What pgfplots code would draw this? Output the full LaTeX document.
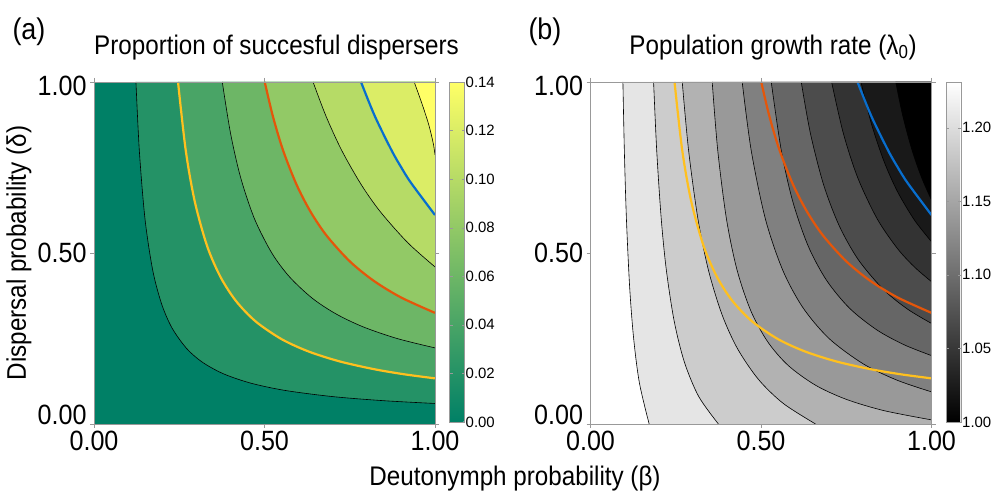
\documentclass[border=0pt]{standalone}
\usepackage{pgfplots}
\pgfplotsset{compat=1.18}
\usepackage{pgfplotstable}
\usepackage{fontspec}
\setmainfont{Liberation Sans}[FakeStretch=0.9]
\newfontfamily\plainsans{Liberation Sans}

% summer colormap bands (left), grey bands (right)
\definecolor{s0}{RGB}{0,128,102}
\definecolor{s1}{RGB}{36,146,102}
\definecolor{s2}{RGB}{73,164,102}
\definecolor{s3}{RGB}{109,182,102}
\definecolor{s4}{RGB}{146,201,102}
\definecolor{s5}{RGB}{182,219,102}
\definecolor{s6}{RGB}{219,237,102}
\definecolor{s7}{RGB}{255,255,102}
\definecolor{cyel}{RGB}{255,192,30}
\definecolor{cred}{RGB}{228,86,10}
\definecolor{cblu}{RGB}{8,110,206}

% contours of the proportion of successful dispersers
\pgfplotstableread{
x y
0.1230 1
0.1329 0.8
0.1495 0.6
0.1721 0.45
0.1986 0.35
0.2292 0.28
0.2723 0.22
0.3188 0.18
0.38 0.1466
0.46 0.1194
0.56 0.0982
0.70 0.0801
0.85 0.0681
1.0 0.0600
}\cA
\pgfplotstableread{
x y
0.2464 1
0.2690 0.8
0.2956 0.65
0.3318 0.52
0.3709 0.43
0.4161 0.36
0.4739 0.30
0.55 0.2481
0.63 0.2117
0.72 0.1831
0.82 0.1605
0.91 0.1453
1.0 0.1334
}\cB
\pgfplotstableread{
x y
0.3762 1
0.4004 0.85
0.4302 0.72
0.4706 0.6
0.5214 0.5
0.5735 0.43
0.64 0.3678
0.71 0.3217
0.79 0.2837
0.89 0.2496
1.0 0.2225
}\cC
\pgfplotstableread{
x y
0.5007 1
0.5245 0.9
0.5545 0.8
0.5939 0.7
0.6354 0.62
0.6827 0.55
0.75 0.4757
0.82 0.4189
0.90 0.3702
1.0 0.3249
}\cD
\pgfplotstableread{
x y
0.6424 1
0.6804 0.9
0.7264 0.8
0.7836 0.7
0.84 0.6202
0.92 0.5302
1.0 0.4593
}\cE
\pgfplotstableread{
x y
0.783 1
0.8236 0.9
0.8727 0.8
0.9012 0.75
0.93 0.7046
1.0 0.611
}\cF
\pgfplotstableread{
x y
0.939 1
0.963 0.933
0.982 0.874
0.995 0.82
1.0 0.787
}\cG

% contours of lambda_0
\pgfplotstableread{
x y
0.0950 1
0.0992 0.8
0.1053 0.6
0.1148 0.4
0.1265 0.25
0.1434 0.12
0.1720 0
}\lA
\pgfplotstableread{
x y
0.1850 1
0.1941 0.8
0.2074 0.6
0.2224 0.45
0.2455 0.3
0.2756 0.18
0.3175 0.08
0.3751 0
}\lB
\pgfplotstableread{
x y
0.2690 1
0.2876 0.8
0.3150 0.6
0.3458 0.45
0.3856 0.32
0.4312 0.22
0.4928 0.13
0.5654 0.06
0.66 0
}\lC
\pgfplotstableread{
x y
0.3569 1
0.3731 0.8
0.3986 0.6
0.4298 0.45
0.4705 0.33
0.5199 0.24
0.58 0.1709
0.66 0.1133
0.75 0.0721
0.86 0.0392
1.0 0.0120
}\lD
\pgfplotstableread{
x y
0.4448 1
0.4712 0.8
0.5127 0.6
0.5636 0.45
0.6230 0.34
0.70 0.2495
0.80 0.1757
0.90 0.1277
1.0 0.0939
}\lE
\pgfplotstableread{
x y
0.5300 1
0.5594 0.8
0.5933 0.65
0.6385 0.52
0.6923 0.42
0.76 0.3381
0.84 0.2749
0.92 0.2315
1.0 0.2000
}\lF
\pgfplotstableread{
x y
0.6180 1
0.6448 0.85
0.6834 0.7
0.7292 0.58
0.7856 0.48
0.86 0.3923
0.93 0.3357
1.0 0.2940
}\lG
\pgfplotstableread{
x y
0.7070 1
0.7414 0.85
0.7837 0.72
0.8406 0.6
0.90 0.5132
0.95 0.4590
1.0 0.4161
}\lH
\pgfplotstableread{
x y
0.7930 1
0.8231 0.88
0.8599 0.77
0.9000 0.68
0.95 0.5962
1.0 0.533
}\lI
\pgfplotstableread{
x y
0.895 1
0.916 0.9
0.9431 0.8
0.9712 0.72
1.0 0.6547
}\lJ

\pgfplotsset{
  panel/.style={
    scale only axis, width=341bp, height=342bp,
    xmin=0, xmax=1, ymin=0, ymax=1,
    xtick={0,0.5,1}, ytick={0,0.5,1},
    xticklabels={0.00,0.50,1.00},
    yticklabel={\ifcase\ticknum\raisebox{9bp}[\height][\depth]{0.00}\or 0.50\or\raisebox{-4bp}[\height][\depth]{1.00}\fi},
    tick align=outside, major tick length=4bp,
    axis line style={gray!80}, tick style={gray!80},
    ticklabel style={font=\fontsize{28}{28}\selectfont},
    title style={font=\fontsize{27}{30}\selectfont, at={(0.5,1)}, anchor=base, yshift=22bp, xshift=12bp},
    axis on top, clip=true,
  },
  cbar/.style={
    colorbar style={
      at={(parent axis.north east)}, anchor=north west, xshift=6bp,
      width=15bp, height=340bp, scale only axis,
      axis line style={gray!80}, tick style={gray!80},
      tick align=inside, major tick length=3bp,
      yticklabel style={font=\plainsans\fontsize{15}{15}\selectfont, inner sep=1bp,
        /pgf/number format/.cd, fixed, fixed zerofill, precision=2, assume math mode=true},
    },
  },
  band/.style={draw=none, fill=#1, smooth},
  cline/.style={black, line width=0.6bp, smooth},
  hline/.style={#1, line width=2.2bp, smooth},
}

\begin{document}
\begin{tikzpicture}[x=1bp, y=1bp]
\useasboundingbox (0,0) rectangle (995,492);

\begin{axis}[panel, cbar, at={(94bp,68bp)}, anchor=south west,
  title={Proportion of succesful dispersers},
  axis background/.style={fill=s0},
  colormap={summer}{rgb255=(0,128,102) rgb255=(255,255,102)},
  colorbar, point meta min=0, point meta max=0.14,
  colorbar style={ytick={0,0.02,0.04,0.06,0.08,0.1,0.12,0.14},
    yticklabel={\pgfmathprintnumber{\tick}}},
]
\addplot[band=s1] table {\cA} -- (1,1) -- cycle;
\addplot[band=s2] table {\cB} -- (1,1) -- cycle;
\addplot[band=s3] table {\cC} -- (1,1) -- cycle;
\addplot[band=s4] table {\cD} -- (1,1) -- cycle;
\addplot[band=s5] table {\cE} -- (1,1) -- cycle;
\addplot[band=s6] table {\cF} -- (1,1) -- cycle;
\addplot[band=s7] table {\cG} -- (1,1) -- cycle;
\addplot[cline] table {\cA};
\addplot[cline] table {\cC};
\addplot[cline] table {\cE};
\addplot[cline] table {\cG};
\addplot[hline=cyel] table {\cB};
\addplot[hline=cred] table {\cD};
\addplot[hline=cblu] table {\cF};
\end{axis}

\begin{axis}[panel, cbar, at={(590.5bp,68bp)}, anchor=south west,
  title={Population growth rate (λ\textsubscript{0})},
  axis background/.style={fill=white},
  colormap={bw}{gray=(0) gray=(1)},
  colorbar, point meta min=1, point meta max=1.231,
  colorbar style={ytick={1,1.05,1.1,1.15,1.2},
    yticklabel={\pgfmathprintnumber{\tick}}},
]
\addplot[band=black!10] table {\lA} -- (1,0) -- (1,1) -- cycle;
\addplot[band=black!20] table {\lB} -- (1,0) -- (1,1) -- cycle;
\addplot[band=black!30] table {\lC} -- (1,0) -- (1,1) -- cycle;
\addplot[band=black!40] table {\lD} -- (1,1) -- cycle;
\addplot[band=black!50] table {\lE} -- (1,1) -- cycle;
\addplot[band=black!60] table {\lF} -- (1,1) -- cycle;
\addplot[band=black!70] table {\lG} -- (1,1) -- cycle;
\addplot[band=black!80] table {\lH} -- (1,1) -- cycle;
\addplot[band=black!90] table {\lI} -- (1,1) -- cycle;
\addplot[band=black] table {\lJ} -- (1,1) -- cycle;
\addplot[cline] table {\lA};
\addplot[cline] table {\lB};
\addplot[cline] table {\lC};
\addplot[cline] table {\lD};
\addplot[cline] table {\lE};
\addplot[cline] table {\lF};
\addplot[cline] table {\lG};
\addplot[cline] table {\lH};
\addplot[cline] table {\lI};
\addplot[cline] table {\lJ};
\addplot[hline=cyel] table {\cB};
\addplot[hline=cred] table {\cD};
\addplot[hline=cblu] table {\cF};
\end{axis}

\node[anchor=base west, font=\fontsize{30}{30}\selectfont] at (9,452) {(a)};
\node[anchor=base west, font=\fontsize{30}{30}\selectfont] at (525,452) {(b)};
\node[rotate=90, font=\fontsize{27}{27}\selectfont] at (19,239) {Dispersal probability (δ)};
\node[anchor=base, font=\fontsize{27}{27}\selectfont] at (515,6) {Deutonymph probability (β)};
\end{tikzpicture}
\end{document}
